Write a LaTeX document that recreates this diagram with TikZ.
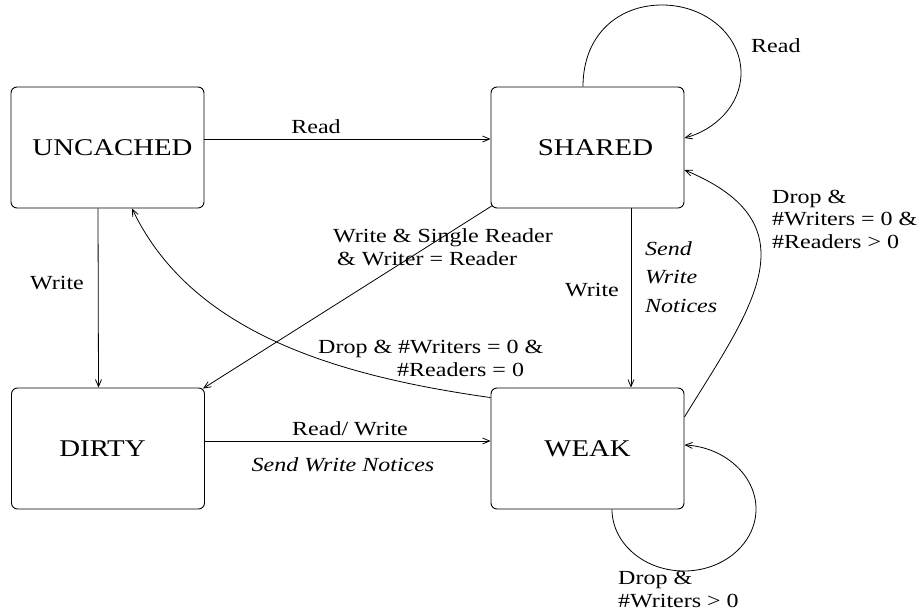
\documentclass[tikz,border=0pt]{standalone}
\usepackage{fontspec}
\setmainfont{Liberation Serif}[FakeStretch=1.2]
\usetikzlibrary{arrows.meta}
\begin{document}
\begin{tikzpicture}[x=1pt,y=-1pt,
  state/.style={draw, rounded corners=6pt, minimum width=193pt, minimum height=121pt, inner sep=0pt, line width=0.9pt, font=\fontsize{24}{28}\selectfont},
  lbl/.style={inner sep=0pt, font=\fontsize{20}{22.5}\selectfont, align=left, anchor=base west},
  conn/.style={line width=0.8pt, -{Straight Barb[length=7pt,width=6pt]}}]
\useasboundingbox (0,0) rectangle (919,613);
\node[state] (U) at (107.5,147.5) {\hspace*{10pt}UNCACHED};
\node[state] (S) at (587.5,147.5) {\hspace*{16pt}SHARED};
\node[state] (D) at (108,448.5) {DIRTY\hspace*{11pt}};
\node[state] (W) at (587.5,448.5) {WEAK};

\draw[conn] ([yshift=8.5pt]U.east) -- ([yshift=8.5pt]S.west);
\draw[conn] ([xshift=-9.5pt]U.south) -- ([xshift=-9.5pt]D.north);
\draw[conn] ([shift={(2pt,3pt)}]S.south west) -- ([shift={(-2pt,-1pt)}]D.north east);
\draw[conn] ([yshift=-10pt]W.north west) .. controls (330,375) and (190,330) .. ([xshift=24.5pt]U.south);
\draw[conn] ([xshift=43.5pt]S.south) -- ([xshift=43.5pt]W.north);
\draw[conn] ([yshift=31.5pt]W.east) .. controls (750,310) and (817,225) .. ([yshift=-22.5pt]S.east);
\draw[conn] ([xshift=-4.5pt]S.north) .. controls (583,35) and (618,5) .. (662,5)
  .. controls (705.6,5) and (741,35.4) .. (741,73)
  .. controls (741,105) and (715,130) .. ([yshift=9.5pt]S.east);
\draw[conn] ([xshift=24.5pt]W.south) .. controls (612,543) and (644,571) .. (684,571)
  .. controls (724,571) and (756,543) .. (756,509)
  .. controls (756,475) and (724,447) .. ([yshift=3.5pt]W.east);
\draw[conn] ([yshift=7.5pt]D.east) -- ([yshift=7.5pt]W.west);

\node[lbl, anchor=base] (l1) at (316,133) {Read};
\node[lbl, anchor=base] (l2) at (57,289) {Write};
\node[lbl] (l3) at (333,265) {Write \& Single Reader\\\hspace*{4pt}\& Writer = Reader};
\node[lbl] (l4) at (318,376) {Drop \& \#Writers = 0 \&\\\hspace*{79pt}\#Readers = 0};
\node[lbl] (l5) at (565,296) {Write};
\node[lbl, font=\fontsize{20}{28.5}\selectfont\itshape] (l6) at (645,312) {Send\\Write\\Notices};
\node[lbl] (l7) at (772,248) {Drop \&\\\#Writers = 0 \&\\\#Readers > 0};
\node[lbl] (l8) at (751,52) {Read};
\node[lbl] (l9) at (618,607) {Drop \&\\\#Writers > 0};
\node[lbl] (l10) at (292,435) {Read/ Write};
\node[lbl, anchor=base, font=\fontsize{20}{22.5}\selectfont\itshape] (l11) at (343,471) {Send Write Notices};
\end{tikzpicture}
\end{document}
